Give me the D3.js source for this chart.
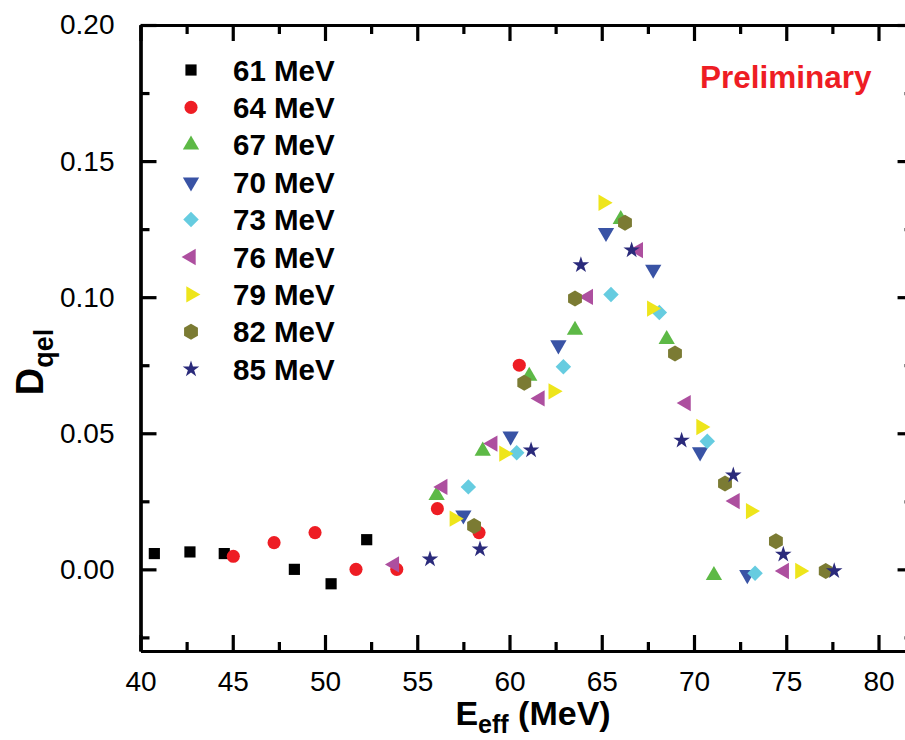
<!DOCTYPE html>
<html><head><meta charset="utf-8">
<script src="https://cdn.jsdelivr.net/npm/d3@7"></script>
<style>body{margin:0;background:#fff}svg{display:block}</style>
</head><body>
<svg id="chart" width="905" height="740"></svg>
<script>
// ---- data ----
const seriesNames = ["61 MeV","64 MeV","67 MeV","70 MeV","73 MeV","76 MeV","79 MeV","82 MeV","85 MeV"];
const seriesColors = ["#000000","#ee1d24","#5db946","#3953a5","#66cce0","#ad4f9f","#eee51b","#7b7b33","#2a2a7b"];
const seriesShapes = ["square","circle","up","down","diamond","left","right","hexagon","star"];
const e61 = [40.75,42.68,44.54,48.34,50.33,52.26];
const d61 = [0.0058,0.0064,0.0058,0.0,-0.0053,0.0109];
const e64 = [45.03,47.24,49.46,51.68,53.89,56.09,58.35,60.53];
const d64 = [0.0048,0.0098,0.0135,0.0,0.0,0.0223,0.0135,0.075];
const e67 = [56.05,58.55,61.07,63.55,66.03,68.52,71.08];
const d67 = [0.0272,0.0435,0.071,0.0879,0.1286,0.0845,-0.0022];
const e70 = [57.50,60.06,62.65,65.23,67.79,70.33,72.89];
const d70 = [0.0199,0.0489,0.0824,0.1237,0.1102,0.0431,-0.002];
const e73 = [57.77,60.39,62.92,65.50,68.12,70.72,73.31];
const d73 = [0.0303,0.0428,0.0744,0.1010,0.0944,0.0471,-0.0014];
const e76 = [53.76,56.38,59.09,61.65,64.27,66.98,69.57,72.22,74.89];
const d76 = [0.0018,0.0303,0.0462,0.0628,0.1001,0.1173,0.0611,0.0251,-0.0006];
const e79 = [57.01,59.70,62.37,65.08,67.71,70.38,73.07,75.74];
const d79 = [0.0186,0.0425,0.0654,0.1347,0.0958,0.0523,0.0214,-0.0006];
const e82 = [58.08,60.80,63.55,66.26,68.97,71.68,74.44,77.14];
const d82 = [0.0159,0.0686,0.0995,0.1273,0.0793,0.0315,0.0103,-0.0006];
const e85 = [55.69,58.40,61.17,63.87,66.62,69.33,72.13,74.84,77.6];
const d85 = [0.0037,0.0074,0.0438,0.1118,0.1173,0.0474,0.0346,0.0055,-0.0006];
const xTicks = [40,45,50,55,60,65,70,75,80];
const yTicks = [0.00,0.05,0.10,0.15,0.20];
const xMinor = [42.5,47.5,52.5,57.5,62.5,67.5,72.5,77.5];
const yMinor = [-0.025,0.025,0.075,0.125,0.175];

const allE = [e61,e64,e67,e70,e73,e76,e79,e82,e85];
const allD = [d61,d64,d67,d70,d73,d76,d79,d82,d85];

// ---- layout ----
const svg = d3.select("#chart");
const L = 140.5, T = 25, B = 651;
const x = d3.scaleLinear().domain([40, 81.9]).range([L, L + 41.9*18.45]);
const y = d3.scaleLinear().domain([-0.03, 0.20]).range([B, T]);
const R = x.range()[1];

function hexPath(r){
  const p = d3.path();
  for(let i=0;i<6;i++){
    const a = Math.PI/6 + i*Math.PI/3;
    const px = r*Math.cos(a), py = r*Math.sin(a);
    if(i===0) p.moveTo(px,py); else p.lineTo(px,py);
  }
  p.closePath(); return p.toString();
}
function shapeAttr(sel, shape){
  if(shape==="square") sel.attr("d", d3.symbol(d3.symbolSquare, 125)());
  else if(shape==="circle") sel.attr("d", d3.symbol(d3.symbolCircle, 135)());
  else if(shape==="up") sel.attr("d", d3.symbol(d3.symbolTriangle, 115)());
  else if(shape==="down") sel.attr("d", d3.symbol(d3.symbolTriangle, 115)()).attr("data-rot",180);
  else if(shape==="left") sel.attr("d", d3.symbol(d3.symbolTriangle, 115)()).attr("data-rot",-90);
  else if(shape==="right") sel.attr("d", d3.symbol(d3.symbolTriangle, 115)()).attr("data-rot",90);
  else if(shape==="diamond") sel.attr("d", d3.symbol(d3.symbolSquare, 120)()).attr("data-rot",45);
  else if(shape==="hexagon") sel.attr("d", hexPath(8));
  else if(shape==="star") sel.attr("d", d3.symbol(d3.symbolStar, 85)());
}

// ---- axes ----
const axisG = svg.append("g");
const bx = axisG.append("g").attr("transform",`translate(0,${B})`)
  .call(d3.axisBottom(x).tickValues(xTicks).tickSizeInner(-16).tickSizeOuter(0).tickPadding(20).tickFormat(d3.format("d")));
axisG.append("g").attr("transform",`translate(0,${B})`)
  .call(d3.axisBottom(x).tickValues(xMinor).tickSizeInner(-9).tickSizeOuter(0).tickFormat(""));
axisG.append("g").attr("transform",`translate(0,${T})`)
  .call(d3.axisTop(x).tickValues(xTicks).tickSizeInner(-16).tickSizeOuter(0).tickFormat(""));
axisG.append("g").attr("transform",`translate(0,${T})`)
  .call(d3.axisTop(x).tickValues(xMinor).tickSizeInner(-9).tickSizeOuter(0).tickFormat(""));
axisG.append("g").attr("transform",`translate(${L},0)`)
  .call(d3.axisLeft(y).tickValues(yTicks).tickSizeInner(-16).tickSizeOuter(0).tickPadding(26).tickFormat(d3.format(".2f")));
axisG.append("g").attr("transform",`translate(${L},0)`)
  .call(d3.axisLeft(y).tickValues(yMinor).tickSizeInner(-9).tickSizeOuter(0).tickFormat(""));
axisG.append("g").attr("transform",`translate(${R},0)`)
  .call(d3.axisRight(y).tickValues(yTicks).tickSizeInner(-16).tickSizeOuter(0).tickFormat(""));
axisG.append("g").attr("transform",`translate(${R},0)`)
  .call(d3.axisRight(y).tickValues(yMinor).tickSizeInner(-9).tickSizeOuter(0).tickFormat(""));

axisG.selectAll(".domain").attr("stroke","#000").attr("stroke-width",3.2);
axisG.selectAll(".tick line").attr("stroke","#000").attr("stroke-width",3.2);
axisG.selectAll(".tick text").attr("font-family","Liberation Sans, Arial, sans-serif").attr("font-size",28).attr("fill","#000");
bx.selectAll(".tick text").attr("dy","0.71em");

// ---- data points ----
const pts = svg.append("g");
allE.forEach((es,si)=>{
  const data = es.map((e,i)=>({e, d: allD[si][i]}));
  pts.append("g").selectAll("path").data(data).join("path")
    .each(function(){ shapeAttr(d3.select(this), seriesShapes[si]); })
    .attr("transform", function(d){ const r = this.getAttribute("data-rot")||0; return `translate(${x(d.e)},${y(d.d)}) rotate(${r})`; })
    .attr("fill", seriesColors[si]);
});

// ---- legend ----
const lg = svg.append("g");
seriesNames.forEach((n,i)=>{
  const yy = 70 + i*37.4;
  const p = lg.append("path");
  shapeAttr(p, seriesShapes[i]);
  p.attr("transform",`translate(191,${yy}) rotate(${p.attr("data-rot")||0})`).attr("fill",seriesColors[i]);
  lg.append("text").attr("x",233).attr("y",yy+10.5).text(n)
    .attr("font-family","Liberation Sans, Arial, sans-serif").attr("font-weight","bold").attr("font-size",29.5).attr("fill","#000");
});

// ---- annotation ----
svg.append("text").attr("x",700).attr("y",88).text("Preliminary")
  .attr("font-family","Liberation Sans, Arial, sans-serif").attr("font-weight","bold").attr("font-size",31.5).attr("fill","#ee1d24");

// ---- axis titles ----
const xt = svg.append("text").attr("x",533).attr("y",725).attr("text-anchor","middle")
  .attr("font-family","Liberation Sans, Arial, sans-serif").attr("font-weight","bold").attr("font-size",34).attr("fill","#000");
xt.append("tspan").text("E");
xt.append("tspan").text("eff").attr("font-size",25).attr("dy",8);
xt.append("tspan").text(" (MeV)").attr("dy",-8);

const yt = svg.append("text").attr("transform","translate(43,362) rotate(-90)").attr("text-anchor","middle")
  .attr("font-family","Liberation Sans, Arial, sans-serif").attr("font-weight","bold").attr("font-size",38).attr("fill","#000");
yt.append("tspan").text("D");
yt.append("tspan").text("qel").attr("font-size",27).attr("dy",10);
</script>
</body></html>
